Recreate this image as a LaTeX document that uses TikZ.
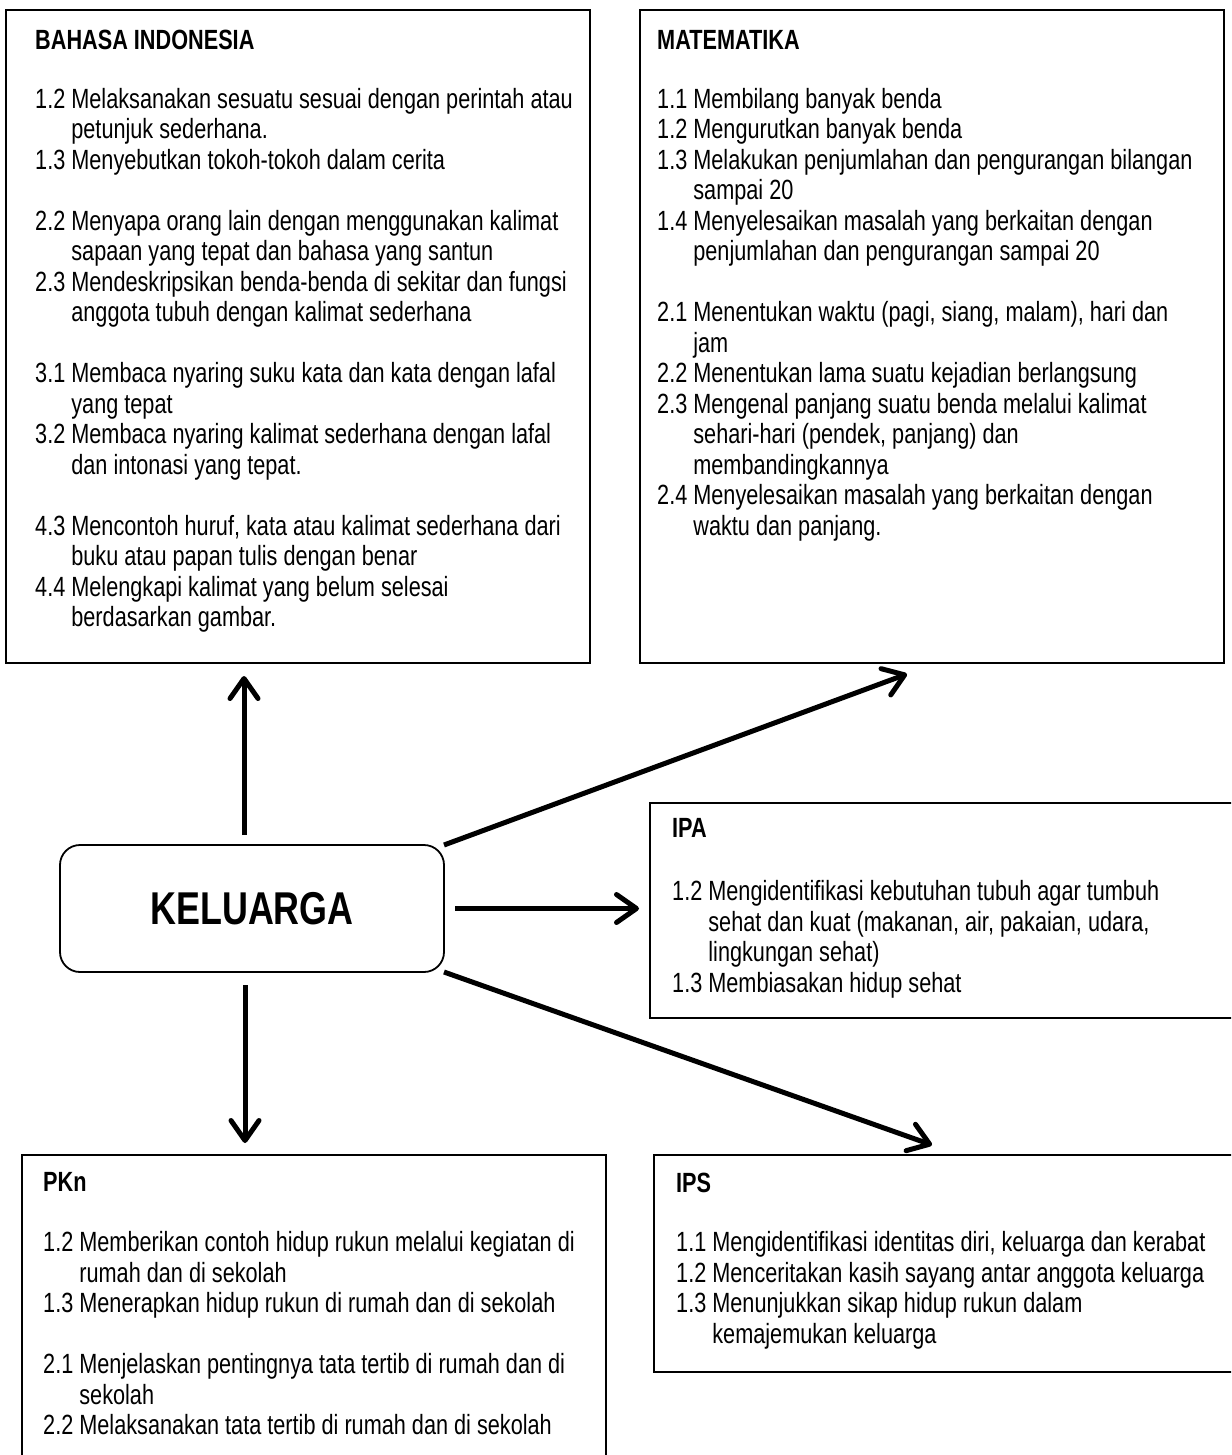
\documentclass[tikz,border=0pt]{standalone}
\usepackage{fontspec}
\setmainfont{Liberation Sans}[FakeStretch=0.78]
\usetikzlibrary{arrows.meta,fit}
\newcommand{\bodysize}{\fontsize{27.8}{30.5}\selectfont}
\begin{document}
\begin{tikzpicture}[x=1pt,y=-1pt,
  panel/.style={draw=black, line width=1.8pt, inner sep=0pt, outer sep=0pt},
  heading/.style={anchor=base west, inner sep=0pt, font=\bodysize\bfseries},
  items/.style={anchor=base west, inner sep=0pt, font=\bodysize},
  hub/.style={draw=black, line width=1.8pt, rounded corners=20pt, outer sep=0pt,
    minimum width=384pt, minimum height=127pt,
    font=\fontsize{46}{50}\selectfont\bfseries},
  link/.style={line width=5pt, -{Straight Barb[length=20pt,width=28pt,round]}}
]
\useasboundingbox (0,0) rectangle (1231,1455);
\clip (0,0) rectangle (1231,1455);

% subject panels
\node[panel, fit={(6,10) (590,663)}] (bi) {};
\node[panel, fit={(640,10) (1224,663)}] (mat) {};
\node[panel, fit={(650,803) (1233,1018)}] (ipa) {};
\node[panel, fit={(22,1155) (606,1475)}] (pkn) {};
\node[panel, fit={(654,1155) (1233,1372)}] (ips) {};

% central theme
\node[hub] (kel) at (252,908.5) {KELUARGA};

% Bahasa Indonesia
\node[heading] (bih) at (35,49.5) {BAHASA INDONESIA};
\node[items] (bil) at (35,108.5) {\begin{tabular}[t]{@{}l@{\ }l@{}}
1.2 & Melaksanakan sesuatu sesuai dengan perintah atau\\
    & petunjuk sederhana.\\
1.3 & Menyebutkan tokoh-tokoh dalam cerita\\
    & \\
2.2 & Menyapa orang lain dengan menggunakan kalimat\\
    & sapaan yang tepat dan bahasa yang santun\\
2.3 & Mendeskripsikan benda-benda di sekitar dan fungsi\\
    & anggota tubuh dengan kalimat sederhana\\
    & \\
3.1 & Membaca nyaring suku kata dan kata dengan lafal\\
    & yang tepat\\
3.2 & Membaca nyaring kalimat sederhana dengan lafal\\
    & dan intonasi yang tepat.\\
    & \\
4.3 & Mencontoh huruf, kata atau kalimat sederhana dari\\
    & buku atau papan tulis dengan benar\\
4.4 & Melengkapi kalimat yang belum selesai\\
    & berdasarkan gambar.
\end{tabular}};

% Matematika
\node[heading] (math) at (657,49.5) {MATEMATIKA};
\node[items] (matl) at (657,108.5) {\begin{tabular}[t]{@{}l@{\ }l@{}}
1.1 & Membilang banyak benda\\
1.2 & Mengurutkan banyak benda\\
1.3 & Melakukan penjumlahan dan pengurangan bilangan\\
    & sampai 20\\
1.4 & Menyelesaikan masalah yang berkaitan dengan\\
    & penjumlahan dan pengurangan sampai 20\\
    & \\
2.1 & Menentukan waktu (pagi, siang, malam), hari dan\\
    & jam\\
2.2 & Menentukan lama suatu kejadian berlangsung\\
2.3 & Mengenal panjang suatu benda melalui kalimat\\
    & sehari-hari (pendek, panjang) dan\\
    & membandingkannya\\
2.4 & Menyelesaikan masalah yang berkaitan dengan\\
    & waktu dan panjang.
\end{tabular}};

% IPA
\node[heading] (ipah) at (672,837.5) {IPA};
\node[items] (ipal) at (672,900.5) {\begin{tabular}[t]{@{}l@{\ }l@{}}
1.2 & Mengidentifikasi kebutuhan tubuh agar tumbuh\\
    & sehat dan kuat (makanan, air, pakaian, udara,\\
    & lingkungan sehat)\\
1.3 & Membiasakan hidup sehat
\end{tabular}};

% PKn
\node[heading] (pknh) at (43,1191.5) {PKn};
\node[items] (pknl) at (43,1251.5) {\begin{tabular}[t]{@{}l@{\ }l@{}}
1.2 & Memberikan contoh hidup rukun melalui kegiatan di\\
    & rumah dan di sekolah\\
1.3 & Menerapkan hidup rukun di rumah dan di sekolah\\
    & \\
2.1 & Menjelaskan pentingnya tata tertib di rumah dan di\\
    & sekolah\\
2.2 & Melaksanakan tata tertib di rumah dan di sekolah
\end{tabular}};

% IPS
\node[heading] (ipsh) at (676,1192.5) {IPS};
\node[items] (ipsl) at (676,1251.5) {\begin{tabular}[t]{@{}l@{\ }l@{}}
1.1 & Mengidentifikasi identitas diri, keluarga dan kerabat\\
1.2 & Menceritakan kasih sayang antar anggota keluarga\\
1.3 & Menunjukkan sikap hidup rukun dalam\\
    & kemajemukan keluarga
\end{tabular}};

% connectors from the theme to each subject
\coordinate (matin) at (907,674);
\coordinate (ipsin) at (932,1145);
\draw[link] ([xshift=-8pt,yshift=10pt]kel.north) -- ([xshift=-8pt,yshift=-13pt]kel.north |- bi.south);
\draw[link] ([xshift=-7pt,yshift=-13pt]kel.south) -- ([xshift=-7pt,yshift=12pt]kel.south |- pkn.north);
\draw[link] ([xshift=11pt]kel.east) -- ([xshift=-11pt]kel.east -| ipa.west);
\draw[link] (kel.north east) -- (matin);
\draw[link] (kel.south east) -- (ipsin);
\end{tikzpicture}
\end{document}
